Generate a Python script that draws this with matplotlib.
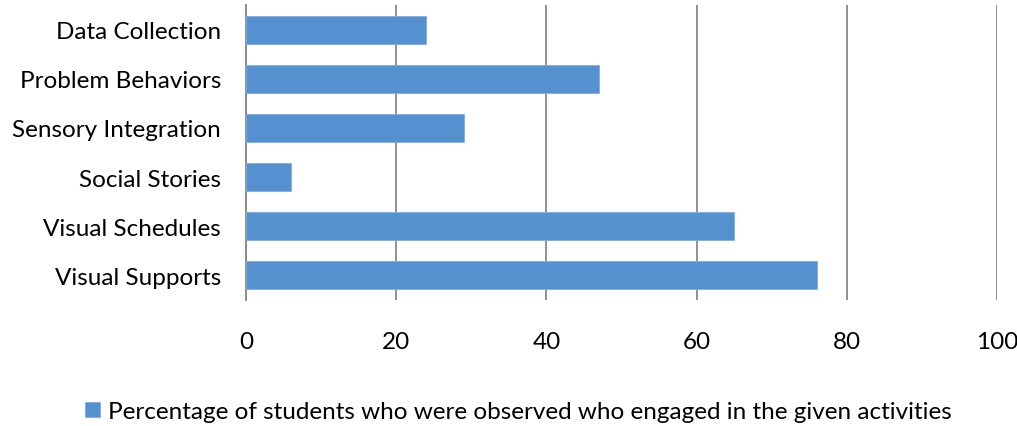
import matplotlib
matplotlib.use("Agg")
import matplotlib.pyplot as plt

plt.rcParams["font.family"] = ["Lato", "DejaVu Sans"]

activities = ["Data Collection", "Problem Behaviors", "Sensory Integration",
              "Social Stories", "Visual Schedules", "Visual Supports"]
percent = [24, 47, 29, 6, 65, 76]
x_ticks = [0, 20, 40, 60, 80, 100]
series_label = "Percentage of students who were observed who engaged in the given activities"

bar_color = "#5591CE"
grid_color = "#888888"

fig = plt.figure(figsize=(10.17, 4.27), dpi=100)
ax = fig.add_axes([0.2419, 0.295, 0.7384, 0.691])

ax.barh(activities, percent, height=0.57, color=bar_color,
        edgecolor="#7FAEDD", linewidth=0.6, label=series_label, zorder=3)
ax.set_ylim(5.5, -0.5)
ax.set_xlim(0, 100)
ax.set_xticks(x_ticks)
ax.xaxis.grid(True, color=grid_color, linewidth=1.3, zorder=0)

for side in ["top", "right", "bottom"]:
    ax.spines[side].set_visible(False)
ax.spines["left"].set_color(grid_color)
ax.spines["left"].set_linewidth(1.3)
ax.tick_params(axis="both", length=0, labelsize=17.5, colors="black")
ax.tick_params(axis="x", pad=22)
ax.tick_params(axis="y", pad=18)

fig.legend(loc="lower center", bbox_to_anchor=(0.51, -0.042), frameon=False,
           fontsize=17.5, handlelength=0.6, handleheight=0.6,
           handletextpad=0.35)

fig.savefig("out.png", dpi=100)
